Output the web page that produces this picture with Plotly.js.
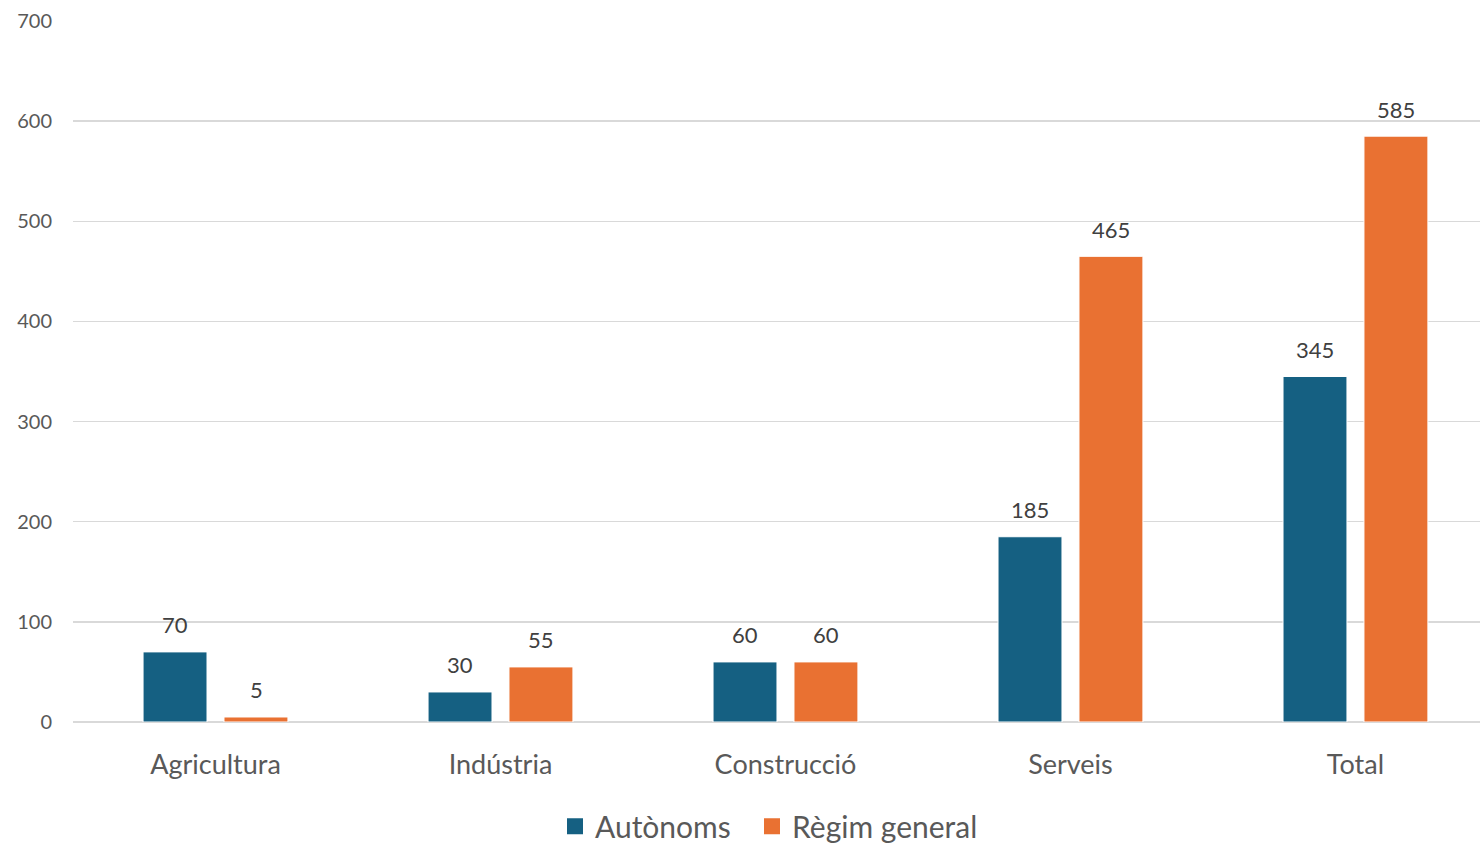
<!DOCTYPE html>
<html><head><meta charset="utf-8">
<script src="https://cdn.plot.ly/plotly-3.0.1.min.js"></script>
<style>html,body{margin:0;padding:0;background:#fff;}#chart{width:1480px;height:843px;}</style>
</head><body><div id="chart"></div>
<script>
const categories = ["Agricultura", "Indústria", "Construcció", "Serveis", "Total"];
const autonoms = [70, 30, 60, 185, 345];
const regimGeneral = [5, 55, 60, 465, 585];
const seriesNames = ["Autònoms", "Règim general"];
const yTicks = [0, 100, 200, 300, 400, 500, 600, 700];

const font = "Lato, 'Open Sans', sans-serif";
const textColor = "#595959";
const colors = ["#156082", "#E97132"];

function trace(name, vals, color) {
  return {
    type: "bar", name: name, x: categories, y: vals,
    marker: {color: color, line: {color: "#ffffff", width: 1}},
    showlegend: false, hoverinfo: "skip"
  };
}
function legendTrace(name, color, legendId) {
  return {
    type: "scatter", mode: "markers", name: name, x: [null], y: [null], legend: legendId,
    marker: {symbol: "square", size: 18, color: color}, showlegend: true, hoverinfo: "skip"
  };
}

const data = [
  trace(seriesNames[0], autonoms, colors[0]),
  trace(seriesNames[1], regimGeneral, colors[1]),
  legendTrace(seriesNames[0], colors[0], "legend"),
  legendTrace(seriesNames[1], colors[1], "legend2")
];

const annotations = [];
[autonoms, regimGeneral].forEach((vals, s) => {
  vals.forEach((v, i) => {
    annotations.push({
      x: categories[i], y: v, xref: "x", yref: "y", text: String(v), showarrow: false,
      xshift: s === 0 ? -40.5 : 40.5, yshift: 27, yanchor: "middle",
      font: {family: font, size: 22, color: "#404040"}
    });
  });
});

function legendBox(xpx) {
  return {orientation: "h", x: xpx / 1480, xanchor: "left", xref: "container", y: 0.02, yref: "container", yanchor: "middle",
          font: {family: font, size: 30, color: textColor}, itemwidth: 30, bgcolor: "rgba(0,0,0,0)"};
}

const layout = {
  width: 1480, height: 843,
  margin: {l: 73, r: 0, t: 21, b: 121, autoexpand: false},
  paper_bgcolor: "#fff", plot_bgcolor: "#fff",
  barmode: "group", bargap: 0.432, bargroupgap: 0.21,
  font: {family: font, color: textColor},
  showlegend: true,
  annotations: annotations,
  legend: legendBox(555),
  legend2: legendBox(752),
  xaxis: {type: "category", range: [-0.5, 4.437], showgrid: false, zeroline: false, showline: false,
          ticks: "", tickfont: {family: font, size: 27, color: textColor}, ticklabelstandoff: 24, fixedrange: true},
  yaxis: {range: [0, 700], tickvals: yTicks, ticktext: yTicks.map(String), showgrid: true,
          gridcolor: "#d9d9d9", gridwidth: 1.5, zeroline: true, zerolinecolor: "#d9d9d9", zerolinewidth: 1.5,
          showline: false, ticks: "", tickfont: {family: font, size: 20, color: textColor},
          ticklabelstandoff: 20, automargin: false, fixedrange: true}
};

Plotly.newPlot("chart", data, layout, {displayModeBar: false, staticPlot: true});
</script></body></html>
